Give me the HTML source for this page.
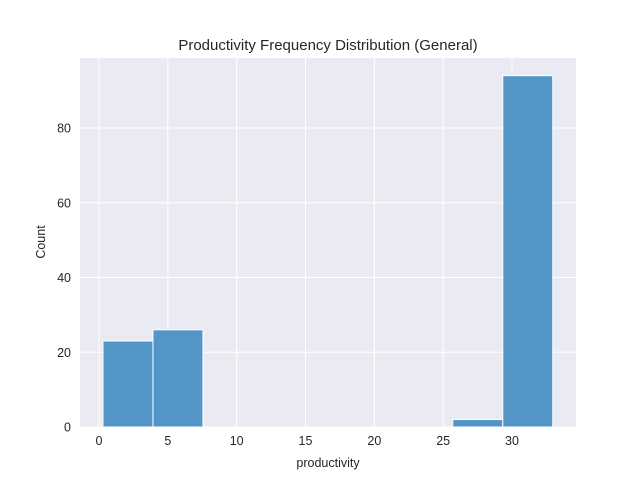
<!DOCTYPE html>
<html><head><meta charset="utf-8"><style>
body{margin:0;background:#fff;font-family:"Liberation Sans","DejaVu Sans",sans-serif;}
svg text{font-family:"Liberation Sans","DejaVu Sans",sans-serif;fill:#262626;}
</style></head><body>
<svg id="chart" width="640" height="480" xmlns="http://www.w3.org/2000/svg">
<rect x="80" y="58" width="496" height="369" fill="#eaeaf2"/>
<g id="grid"></g>
<g id="bars"></g>
<g id="ticks"></g>
<text x="328" y="50" text-anchor="middle" font-size="15">Productivity Frequency Distribution (General)</text>
<text x="328" y="467" text-anchor="middle" font-size="12.5">productivity</text>
<text transform="translate(45,242) rotate(-90)" text-anchor="middle" font-size="12.5">Count</text>
</svg>
<script>
const binStart = 0.29;
const binWidth = 3.63;
const counts = [23, 26, 0, 0, 0, 0, 0, 2, 94];
const xTicks = [0, 5, 10, 15, 20, 25, 30];
const yTicks = [0, 20, 40, 60, 80];
const NS = "http://www.w3.org/2000/svg";
const X = v => 99 + v * (413 / 30);
const Y = v => 427 - v * (299 / 80);
const grid = document.getElementById('grid');
const bars = document.getElementById('bars');
const ticks = document.getElementById('ticks');
function mk(tag, attrs, parent){const e=document.createElementNS(NS,tag);for(const k in attrs)e.setAttribute(k,attrs[k]);parent.appendChild(e);return e;}
xTicks.forEach(t=>{
  const l=mk('line',{x1:X(t),x2:X(t),y1:58,y2:427,stroke:'#fff','stroke-width':1},grid);
  
  
  const tx=mk('text',{x:X(t),y:445,'text-anchor':'middle','font-size':12.5},ticks);
  tx.textContent=t;
  
  
});
yTicks.forEach(t=>{
  const l=mk('line',{x1:80,x2:576,y1:Y(t),y2:Y(t),stroke:'#fff','stroke-width':1},grid);
  
  
  const tx=mk('text',{x:71,y:Y(t)+4.5,'text-anchor':'end','font-size':12.5},ticks);
  tx.textContent=t;
  
  
});
counts.forEach((c,i)=>{
  if(c<=0)return;
  const x0=X(binStart+i*binWidth), x1=X(binStart+(i+1)*binWidth);
  const r=mk('rect',{x:x0,y:Y(c),width:x1-x0,height:Y(0)-Y(c),fill:'#5196c7',stroke:'#fff','stroke-width':1},bars);
  
  
});
</script>
</body></html>
